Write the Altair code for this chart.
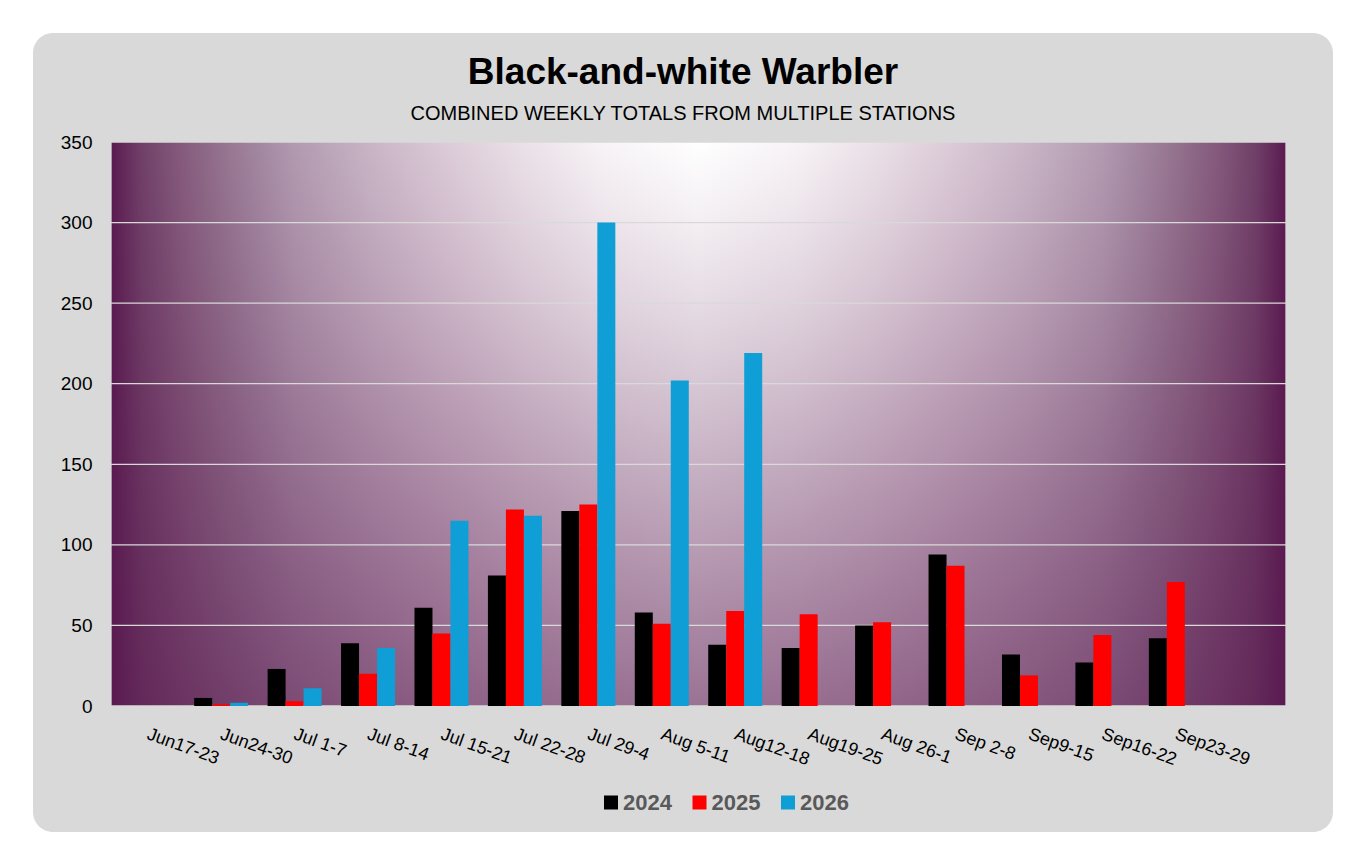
import altair as alt
import pandas as pd

# ---------------- data ----------------
TITLE = "Black-and-white Warbler"
SUBTITLE = "COMBINED WEEKLY TOTALS FROM MULTIPLE STATIONS"

WEEKS = ["Jun17-23", "Jun24-30", "Jul 1-7", "Jul 8-14", "Jul 15-21", "Jul 22-28",
         "Jul 29-4", "Aug 5-11", "Aug12-18", "Aug19-25", "Aug 26-1", "Sep 2-8",
         "Sep9-15", "Sep16-22", "Sep23-29"]
BLANK_SLOT = " "
YEARS = ["2024", "2025", "2026"]

V2024 = [None, 5, 23, 39, 61, 81, 121, 58, 38, 36, 50, 94, 32, 27, 42]
V2025 = [None, 1, 3, 20, 45, 122, 125, 51, 59, 57, 52, 87, 19, 44, 77]
V2026 = [None, 2, 11, 36, 115, 118, 300, 202, 219, None, None, None, None, None, None]

YTICKS = [0, 50, 100, 150, 200, 250, 300, 350]
COLORS = ["#000000", "#FF0000", "#0F9ED5"]

rows = []
for yr, vals in zip(YEARS, [V2024, V2025, V2026]):
    for wk, v in zip(WEEKS, vals):
        if v is not None:
            rows.append({"week": wk, "year": yr, "count": v})
df = pd.DataFrame(rows)
grid_df = pd.DataFrame({"count": YTICKS[1:-1]})

W, H = 1175, 564
one = pd.DataFrame({"k": [0]})

LABEL_FONT = "Liberation Sans, Arial, sans-serif"
TITLE_FONT = "Liberation Sans, Arial, sans-serif"

# ---------------- background ----------------
bg = alt.Chart(one).mark_rect(fill="#d9d9d9", cornerRadius=20).encode(
    x=alt.value(-78), x2=alt.value(1222), y=alt.value(-109), y2=alt.value(690)
)

side_stops = [
    (0.0, "#5a1a50"), (0.026, "#704068"), (0.058, "#84597c"), (0.091, "#93718d"),
    (0.124, "#a286a0"), (0.156, "#b29ab0"), (0.222, "#c9b5c6"), (0.287, "#dccbd8"),
    (0.352, "#ebe1e8"), (0.417, "#f7f3f6"), (0.5, "#ffffff"),
]
stops = [alt.GradientStop(offset=o, color=c) for o, c in side_stops]
stops += [alt.GradientStop(offset=round(1 - o, 3), color=c) for o, c in reversed(side_stops[:-1])]
base_grad = alt.LinearGradient(gradient="linear", x1=0, y1=0, x2=1, y2=0, stops=stops)

plot_bg = alt.Chart(one).mark_rect(fill=base_grad).encode(
    x=alt.value(0), x2=alt.value(W), y=alt.value(0), y2=alt.value(H)
)

overlay_grad = alt.LinearGradient(
    gradient="linear", x1=0, y1=0, x2=0, y2=1,
    stops=[
        alt.GradientStop(offset=0.0, color="rgba(90,26,80,0)"),
        alt.GradientStop(offset=0.12, color="rgba(90,26,80,0.06)"),
        alt.GradientStop(offset=0.3, color="rgba(90,26,80,0.16)"),
        alt.GradientStop(offset=0.5, color="rgba(90,26,80,0.29)"),
        alt.GradientStop(offset=0.75, color="rgba(90,26,80,0.45)"),
        alt.GradientStop(offset=1.0, color="rgba(90,26,80,0.61)"),
    ],
)
plot_shade = alt.Chart(one).mark_rect(fill=overlay_grad).encode(
    x=alt.value(0), x2=alt.value(W), y=alt.value(0), y2=alt.value(H)
)

yscale = alt.Scale(domain=[0, 350], nice=False)
y_axis = alt.Axis(
    title=None, values=YTICKS, grid=False, ticks=False, domain=False,
    labelFontSize=19, labelFont=LABEL_FONT, labelColor="#000000", labelPadding=19,
    zindex=2,
)

grid = alt.Chart(grid_df).mark_rule(color="#d9d9d9", strokeWidth=1.3).encode(
    y=alt.Y("count:Q", scale=yscale, axis=y_axis)
)

border = alt.Chart(one).mark_rect(fillOpacity=0, stroke="#d9d9d9", strokeWidth=1.3).encode(
    x=alt.value(0), x2=alt.value(W), y=alt.value(0), y2=alt.value(H)
)

# ---------------- bars ----------------
bars = alt.Chart(df).mark_bar().encode(
    x=alt.X(
        "week:N",
        scale=alt.Scale(domain=WEEKS + [BLANK_SLOT], paddingInner=0.265, paddingOuter=0.1325),
        sort=None,
        axis=alt.Axis(
            title=None, labelAngle=20, labelAlign="left", labelBaseline="top",
            labelPadding=19, labelOffset=3, ticks=False, domain=False,
            labelFontSize=18, labelFont=LABEL_FONT, labelColor="#000000",
            labelOverlap=False, zindex=2,
        ),
    ),
    xOffset=alt.XOffset("year:N", scale=alt.Scale(domain=YEARS)),
    y=alt.Y("count:Q", scale=yscale, axis=y_axis),
    color=alt.Color(
        "year:N",
        scale=alt.Scale(domain=YEARS, range=COLORS),
        legend=alt.Legend(
            title=None, orient="none", legendX=489, legendY=649.5, direction="horizontal",
            symbolType="square", symbolSize=196, symbolStrokeWidth=0, symbolOpacity=1,
            labelFontSize=22, labelFont=LABEL_FONT, labelFontWeight="bold",
            labelColor="#595959", labelOffset=1, columnPadding=16.5, padding=0,
        ),
    ),
)

# ---------------- titles ----------------
title = alt.Chart(pd.DataFrame({"t": [TITLE]})).mark_text(
    font=TITLE_FONT, fontSize=37, fontWeight="bold", color="#000000",
    align="center", baseline="alphabetic",
).encode(text="t:N", x=alt.value(572), y=alt.value(-58))

subtitle = alt.Chart(pd.DataFrame({"t": [SUBTITLE]})).mark_text(
    font=TITLE_FONT, fontSize=20, color="#000000",
    align="center", baseline="alphabetic",
).encode(text="t:N", x=alt.value(572), y=alt.value(-22))

chart = alt.layer(bg, plot_bg, plot_shade, grid, border, bars, title, subtitle).properties(
    width=W, height=H,
    autosize=alt.AutoSizeParams(type="none"),
    padding={"left": 103, "top": 134, "right": 64, "bottom": 143},
    background="white",
).configure_view(strokeWidth=0)

chart.save("out.html", embed_options={"renderer": "svg", "actions": False})
